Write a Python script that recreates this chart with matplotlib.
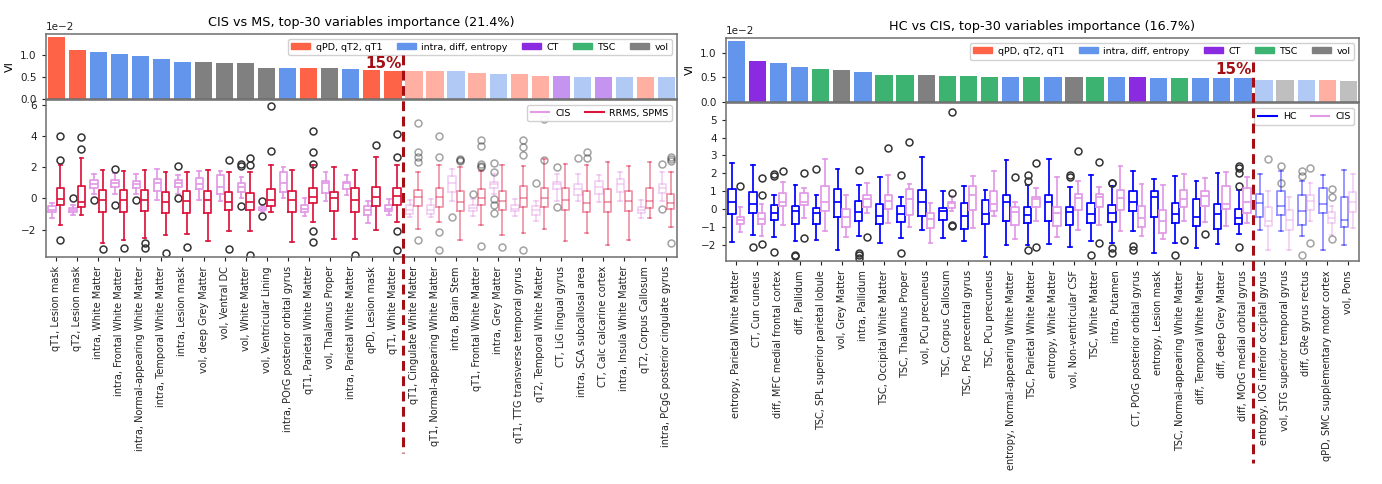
import matplotlib
matplotlib.use("Agg")
import matplotlib.pyplot as plt
from matplotlib.patches import Patch
from matplotlib.lines import Line2D

# ---------------- data: left panel (CIS vs MS) ----------------
L_title = "CIS vs MS, top-30 variables importance (21.4%)"
L_labels = [
    "qT1, Lesion mask", "qT2, Lesion mask", "intra, White Matter",
    "intra, Frontal White Matter", "intra, Normal-appearing White Matter",
    "intra, Temporal White Matter", "intra, Lesion mask", "vol, deep Grey Matter",
    "vol, Ventral DC", "vol, White Matter", "vol, Ventricular Lining",
    "intra, POrG posterior orbital gyrus", "qT1, Parietal White Matter",
    "vol, Thalamus Proper", "intra, Parietal White Matter", "qPD, Lesion mask",
    "qT1, White Matter", "qT1, Cingulate White Matter",
    "qT1, Normal-appearing White Matter", "intra, Brain Stem",
    "qT1, Frontal White Matter", "intra, Grey Matter",
    "qT1, TTG transverse temporal gyrus", "qT2, Temporal White Matter",
    "CT, LiG lingual gyrus", "intra, SCA subcallosal area",
    "CT, Calc calcarine cortex", "intra, Insula White Matter",
    "qT2, Corpus Callosum", "intra, PCgG posterior cingulate gyrus"]
L_groups = ["q", "q", "d", "d", "d", "d", "d", "v", "v", "v", "v", "d", "q", "v", "d",
            "q", "q", "q", "q", "d", "q", "d", "q", "q", "c", "d", "c", "d", "q", "d"]
L_vi = [0.0140, 0.0112, 0.0106, 0.0102, 0.0098, 0.0091, 0.0085, 0.0083, 0.0082, 0.0081,
        0.0071, 0.0071, 0.0071, 0.0070, 0.0067, 0.0066, 0.0063, 0.0063, 0.0063, 0.0063,
        0.0058, 0.0057, 0.0057, 0.0053, 0.0053, 0.0050, 0.0050, 0.0050, 0.0050, 0.0049]
L_n_top = 17
L_group_names = ["CIS", "RRMS, SPMS"]

# CIS boxes (left panel)
L_a_q1 = [-0.86, -0.86, 0.69, 0.75, 0.69, 0.47, 0.73, 0.58, 0.26, 0.43, -0.75, 0.43, -0.86, 0.37, 0.58,
          -1.03, -0.82, -0.97, -0.97, 0.43, -0.82, 0.65, -0.82, -1.08, 0.58, 0.19, 0.30, 0.43, -0.92, 0.37]
L_a_med = [-0.71, -0.74, 0.95, 1.01, 0.95, 1.01, 0.99, 0.95, 0.75, 0.75, -0.65, 1.01, -0.66, 0.97, 0.97,
           -0.77, -0.66, -0.71, -0.71, 1.01, -0.60, 0.90, -0.65, -0.71, 0.90, 0.58, 0.75, 0.90, -0.74, 0.69]
L_a_q3 = [-0.50, -0.60, 1.16, 1.16, 1.12, 1.23, 1.16, 1.29, 1.48, 1.01, -0.54, 1.66, -0.45, 1.12, 1.08,
          -0.50, -0.45, -0.45, -0.45, 1.44, -0.45, 1.08, -0.45, -0.50, 1.08, 0.90, 1.12, 1.23, -0.54, 0.95]
L_a_lo = [-1.25, -1.08, 0.26, 0.26, 0.26, -0.13, 0.26, -0.13, -0.17, 0.00, -0.86, 0.00, -1.14, -0.19, 0.22,
          -1.57, -1.03, -1.20, -1.20, -0.19, -1.14, 0.26, -1.14, -1.44, -0.17, -0.17, -0.24, -0.17, -1.25, -0.19]
L_a_hi = [-0.28, -0.45, 1.59, 1.61, 1.59, 1.87, 1.50, 1.76, 1.76, 1.36, -0.45, 1.98, 0.04, 1.72, 1.50,
          -0.17, -0.06, -0.13, -0.06, 1.87, -0.06, 1.55, -0.06, -0.19, 1.55, 1.55, 1.48, 1.70, -0.13, 1.70]
L_a_fl = [[], [0.0], [-0.13], [1.87, -0.39], [-0.13], [], [2.05, 0.0], [], [], [2.19, 2.08, -0.50],
          [-0.17, -1.14], [], [], [], [], [], [], [], [], [-1.18],
          [0.26], [2.26, 1.66, -0.06, -0.39, -0.92], [], [1.01], [1.98, -0.54], [2.58], [], [], [], [2.19, -0.66]]

# RRMS, SPMS boxes (left panel)
L_b_q1 = [-0.43, -0.54, -0.86, -0.86, -0.82, -0.92, -0.92, -0.92, -0.77, -0.71, -0.50, -0.86, -0.28, -0.82, -0.86,
          -0.50, -0.39, -0.50, -0.54, -0.82, -0.39, -0.75, -0.54, -0.54, -0.75, -0.86, -0.86, -0.82, -0.60, -0.66]
L_b_med = [-0.06, -0.24, -0.09, -0.09, -0.09, -0.24, -0.17, -0.13, -0.26, -0.21, -0.13, -0.13, 0.09, 0.00, -0.13,
           0.11, 0.15, 0.11, 0.11, -0.21, 0.04, -0.17, 0.04, 0.04, -0.11, -0.28, -0.21, -0.17, -0.17, -0.28]
L_b_q3 = [0.65, 0.79, 0.54, 0.54, 0.54, 0.41, 0.49, 0.49, 0.41, 0.32, 0.58, 0.47, 0.65, 0.43, 0.69,
          0.75, 0.65, 0.54, 0.65, 0.47, 0.58, 0.47, 0.79, 0.65, 0.65, 0.47, 0.62, 0.47, 0.65, 0.30]
L_b_lo = [-1.68, -1.08, -2.86, -2.65, -2.55, -2.32, -2.25, -2.71, -2.06, -2.10, -0.86, -2.80, -1.53, -2.60, -2.60,
          -2.00, -1.53, -1.96, -1.53, -2.65, -1.68, -2.32, -2.21, -1.96, -2.75, -2.21, -2.97, -2.65, -1.25, -1.85]
L_b_hi = [2.13, 2.58, 1.83, 1.76, 1.83, 1.72, 1.70, 1.83, 1.72, 1.72, 2.13, 1.80, 2.13, 2.02, 1.83,
          2.62, 2.13, 1.66, 2.15, 2.00, 1.75, 2.15, 2.08, 2.52, 2.19, 2.15, 2.34, 2.08, 2.36, 1.66]
L_b_fl = [[3.98, 2.47, -2.69], [3.90, 3.16], [-3.23], [-3.18], [-2.86, -3.18], [-3.50], [-3.08], [],
          [2.45, -3.23], [2.58, 2.13, -3.63], [5.89, 3.05], [], [4.34, 2.95, 2.19, -2.06, -2.82], [], [-3.61],
          [3.44], [4.13, 2.67, -2.10, -3.33], [4.84, 2.99, 2.67, 2.34, -2.69], [4.02, 2.67, -2.15, -3.33],
          [2.55, 2.45, 2.38], [3.76, 3.33, 2.20, 2.10, 2.00, -3.03], [-3.08], [3.76, 3.27, 2.79, -3.33],
          [5.10, 2.47], [], [3.00, 2.58], [], [], [], [2.68, 2.52, 2.39, -2.86]]

# ---------------- data: right panel (HC vs CIS) ----------------
R_title = "HC vs CIS, top-30 variables importance (16.7%)"
R_labels = [
    "entropy, Parietal White Matter", "CT, Cun cuneus", "diff, MFC medial frontal cortex",
    "diff, Pallidum", "TSC, SPL superior parietal lobule", "vol, Grey Matter",
    "intra, Pallidum", "TSC, Occipital White Matter", "TSC, Thalamus Proper",
    "vol, PCu precuneus", "TSC, Corpus Callosum", "TSC, PrG precentral gyrus",
    "TSC, PCu precuneus", "entropy, Normal-appearing White Matter",
    "TSC, Parietal White Matter", "entropy, White Matter", "vol, Non-ventricular CSF",
    "TSC, White Matter", "intra, Putamen", "CT, POrG posterior orbital gyrus",
    "entropy, Lesion mask", "TSC, Normal-appearing White Matter",
    "diff, Temporal White Matter", "diff, deep Grey Matter",
    "diff, MOrG medial orbital gyrus", "entropy, IOG inferior occipital gyrus",
    "vol, STG superior temporal gyrus", "diff, GRe gyrus rectus",
    "qPD, SMC supplementary motor cortex", "vol, Pons"]
R_groups = ["d", "c", "d", "d", "t", "v", "d", "t", "t", "v", "t", "t", "t", "d", "t",
            "d", "v", "t", "d", "c", "d", "t", "d", "d", "d", "d", "v", "d", "q", "v"]
R_vi = [0.0124, 0.0082, 0.0078, 0.0071, 0.0067, 0.0064, 0.0061, 0.0055, 0.0055, 0.0055,
        0.0053, 0.0053, 0.0051, 0.0051, 0.0051, 0.0051, 0.0051, 0.0051, 0.0050, 0.0050,
        0.0049, 0.0049, 0.0049, 0.0048, 0.0048, 0.0044, 0.0044, 0.0044, 0.0044, 0.0043]
R_n_top = 25
R_group_names = ["HC", "CIS"]

# HC boxes (right panel)
R_a_q1 = [-0.26, -0.22, -0.63, -0.82, -0.83, -0.44, -0.69, -0.83, -0.74, -0.37, -0.63, -1.11, -0.82, -0.69, -0.78,
          -0.65, -0.87, -0.78, -0.74, -0.13, -0.44, -0.78, -0.93, -1.09, -0.82, -0.44, -0.35, -0.87, -0.22, -1.02]
R_a_med = [0.39, 0.28, -0.22, -0.13, -0.22, 0.42, -0.17, -0.41, -0.26, 0.42, -0.13, -0.41, -0.28, 0.42, -0.35,
           0.42, -0.19, -0.28, -0.22, 0.42, 0.70, -0.28, -0.44, -0.28, -0.50, 0.33, 0.20, -0.13, 0.29, -0.63]
R_a_q3 = [1.13, 0.94, 0.24, 0.18, 0.06, 1.11, 0.46, 0.29, 0.18, 1.07, 0.06, 0.33, 0.52, 0.79, 0.14,
          0.76, 0.14, 0.33, 0.24, 1.03, 1.03, 0.33, 0.57, 0.29, 0.00, 0.85, 1.02, 0.76, 1.17, 0.70]
R_a_lo = [-1.83, -1.43, -1.56, -1.80, -1.71, -2.26, -1.50, -1.89, -1.61, -1.15, -1.61, -1.80, -2.69, -1.98, -2.02,
          -1.93, -2.11, -1.80, -1.89, -1.24, -2.44, -1.89, -2.17, -1.93, -1.37, -1.19, -1.24, -1.52, -2.26, -1.98]
R_a_hi = [2.56, 2.46, 0.79, 1.35, 0.79, 2.24, 1.35, 1.81, 0.70, 2.92, 1.03, 1.29, 1.07, 2.74, 1.35,
          2.78, 1.22, 1.90, 1.31, 2.13, 1.67, 1.87, 1.57, 2.00, 1.07, 1.96, 2.13, 1.57, 1.90, 2.18]
R_a_fl = [[], [-2.13], [1.94, 1.87, -2.39], [-2.54, -2.63], [2.23], [], [2.18, -2.48, -2.58, -2.76], [],
          [1.90, -2.48], [], [], [], [], [], [1.90, 1.57, -2.30], [], [1.90, 1.80], [-2.59],
          [1.48, 1.44, -2.17, -2.44], [-2.08, -2.26], [], [-2.59], [], [], [2.41, 2.28, 2.03, 1.29, -2.11],
          [], [2.41, 1.48], [2.13, 1.87, -2.59], [], []]

# CIS boxes (right panel)
R_b_q1 = [-0.82, -0.82, 0.18, 0.24, -0.09, -1.00, 0.14, 0.00, -0.32, -1.06, 0.06, -0.04, -0.09, -0.87, 0.14,
          -0.93, -0.04, 0.11, -0.04, -1.02, -1.33, 0.09, 0.18, 0.00, -0.22, -0.96, -1.15, -0.06, -0.78, -0.17]
R_b_med = [-0.59, -0.56, 0.42, 0.37, 0.42, -0.44, 0.56, 0.46, 0.57, -0.54, 0.33, 0.76, 0.28, -0.17, 0.57,
           -0.22, 0.61, 0.65, 0.61, -0.50, -0.69, 0.57, 0.74, 0.29, 0.42, -0.69, -0.59, 0.46, -0.50, 0.42]
R_b_q3 = [-0.44, -0.22, 0.92, 0.92, 1.31, 0.00, 0.79, 0.79, 1.11, -0.22, 0.39, 1.31, 1.02, 0.14, 0.70,
          0.14, 0.83, 0.83, 1.07, 0.18, -0.04, 1.07, 1.03, 1.31, 1.20, 0.09, -0.04, 0.79, -0.19, 0.98]
R_b_lo = [-1.30, -1.48, -0.91, -0.47, -1.24, -1.58, -0.22, -0.78, -1.00, -1.89, -0.13, -1.06, -0.41, -1.65, -0.69,
          -1.56, -1.15, -0.87, -1.24, -1.52, -1.65, -0.69, -0.74, -0.96, -0.78, -2.26, -2.26, -0.65, -1.45, -1.06]
R_b_hi = [0.11, 0.29, 1.50, 1.17, 2.78, 0.79, 1.44, 1.90, 1.39, 0.33, 0.75, 1.85, 2.13, 0.42, 1.20,
          1.78, 1.57, 1.26, 2.41, 1.39, 1.35, 1.96, 1.72, 2.09, 1.81, 1.03, 0.67, 1.48, 0.20, 1.96]
R_b_fl = [[1.31], [1.76, 0.79, -1.93], [2.13], [2.03, -1.61], [], [], [-1.56], [3.39], [3.76], [],
          [5.42, 0.92, -0.87, -0.93], [], [], [1.81], [2.56, -2.11], [], [3.26], [2.65, -1.89], [], [],
          [], [-1.74], [-1.37], [], [], [2.79], [], [2.28, -1.89], [1.11, 0.65, -1.65], []]

# ---------------- styling ----------------
GROUP_COLORS = {"q": "tomato", "d": "cornflowerblue", "c": "blueviolet",
                "t": "mediumseagreen", "v": "gray"}
GROUP_LEGEND = [("q", "qPD, qT2, qT1"), ("d", "intra, diff, entropy"), ("c", "CT"),
                ("t", "TSC"), ("v", "vol")]
W, H = 1382, 484
FADE = 0.45
LINE_COLOR = "#a30f14"
SPINE = "#6e6e6e"


def rect(l, t, r, b):
    return [l / W, 1 - b / H, (r - l) / W, (b - t) / H]


def make_stats(q1, med, q3, lo, hi, fl):
    return [dict(q1=a, med=m, q3=c, whislo=d, whishi=e, fliers=f)
            for a, m, c, d, e, f in zip(q1, med, q3, lo, hi, fl)]


def style_axes(ax):
    for s in ax.spines.values():
        s.set_color(SPINE)
        s.set_linewidth(1.1)
    ax.tick_params(colors="#222222", labelsize=7.5, length=3)


def panel(fig, bar_px, box_px, title, labels, groups, vi, n_top, stats_a, stats_b,
          col_a, col_b, names, vi_top, box_ylim, box_yticks, line_top_val,
          text_val, line_bottom_px):
    n = len(labels)
    xs = list(range(n))
    axb = fig.add_axes(rect(*bar_px))
    colors = [GROUP_COLORS[g] for g in groups]
    alphas = [1.0 if i < n_top else 0.5 for i in xs]
    for x, v, c, a in zip(xs, vi, colors, alphas):
        axb.bar(x, v, width=0.82, color=c, alpha=a, zorder=2)
    axb.set_xlim(-0.5, n - 0.5)
    axb.set_ylim(0, vi_top)
    axb.set_yticks([0, 0.005, 0.010])
    axb.ticklabel_format(axis="y", style="sci", scilimits=(-2, -2))
    axb.yaxis.get_offset_text().set_fontsize(7.5)
    axb.set_xticks([])
    axb.set_ylabel("VI", fontsize=8)
    axb.set_title(title, fontsize=9.2, pad=6)
    style_axes(axb)
    handles = [Patch(color=GROUP_COLORS[k]) for k, _ in GROUP_LEGEND]
    axb.legend(handles, [t for _, t in GROUP_LEGEND], loc="upper right", ncol=5,
               fontsize=6.8, handlelength=2.0, columnspacing=1.5, borderpad=0.4,
               handleheight=0.6, handletextpad=0.6, framealpha=0.9)

    ax = fig.add_axes(rect(*box_px))
    for stats, off, col in ((stats_a, -0.2, col_a), (stats_b, 0.2, col_b)):
        for part, alpha in ((slice(0, n_top), 1.0), (slice(n_top, n), FADE)):
            pos = [x + off for x in xs[part]]
            lp = dict(color=col, linewidth=1.25, alpha=alpha)
            ax.bxp(stats[part], positions=pos, widths=0.35, showfliers=True,
                   boxprops=lp, whiskerprops=lp, capprops=lp, medianprops=lp,
                   flierprops=dict(marker="o", markerfacecolor="none",
                                   markeredgecolor="#333333", markersize=5,
                                   markeredgewidth=1.1, alpha=alpha),
                   manage_ticks=False)
    ax.set_xlim(-0.5, n - 0.5)
    ax.set_ylim(*box_ylim)
    ax.set_yticks(box_yticks)
    ax.set_xticks(xs)
    ax.set_xticklabels(labels, rotation=90, fontsize=7)
    style_axes(ax)
    ax.tick_params(axis="x", labelsize=7)
    ax.legend([Line2D([], [], color=col_a, lw=1.5), Line2D([], [], color=col_b, lw=1.5)],
              names, loc="upper right", ncol=2, fontsize=6.8, handlelength=2.0,
              columnspacing=1.5, borderpad=0.4, handletextpad=0.6, framealpha=0.9)

    # 15% separator line, running from the bar panel down through the labels
    xcut = n_top - 0.5
    inv = fig.transFigure.inverted()
    x0, y0 = inv.transform(axb.transData.transform((xcut, line_top_val)))
    y1 = 1 - line_bottom_px / H
    fig.add_artist(Line2D([x0, x0], [y0, y1], transform=fig.transFigure,
                          color=LINE_COLOR, lw=2.2, ls=(0, (3.2, 1.8)), zorder=20))
    axb.text(xcut - 0.08, text_val, "15%", ha="right", va="center", fontsize=11,
             fontweight="bold", color=LINE_COLOR, zorder=21)


fig = plt.figure(figsize=(W / 100, H / 100), dpi=100)

panel(fig, (45.7, 34, 677, 98.7), (45.7, 100, 677, 257), L_title, L_labels, L_groups,
      L_vi, L_n_top,
      make_stats(L_a_q1, L_a_med, L_a_q3, L_a_lo, L_a_hi, L_a_fl),
      make_stats(L_b_q1, L_b_med, L_b_q3, L_b_lo, L_b_hi, L_b_fl),
      "#e29ae6", "crimson", L_group_names, 0.0148, (-3.75, 6.3), [-2, 0, 2, 4, 6],
      0.0100, 0.0081, 453)

panel(fig, (725.7, 38.3, 1359, 101.7), (725.7, 103.5, 1359, 261), R_title, R_labels,
      R_groups, R_vi, R_n_top,
      make_stats(R_a_q1, R_a_med, R_a_q3, R_a_lo, R_a_hi, R_a_fl),
      make_stats(R_b_q1, R_b_med, R_b_q3, R_b_lo, R_b_hi, R_b_fl),
      "blue", "#e29ae6", R_group_names, 0.0129, (-2.9, 5.9), [-2, -1, 0, 1, 2, 3, 4, 5],
      0.0081, 0.0065, 463)

fig.savefig("out.png", dpi=100)
